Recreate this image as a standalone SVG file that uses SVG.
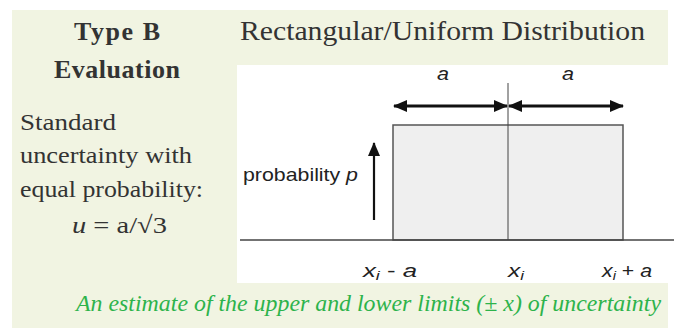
<svg xmlns="http://www.w3.org/2000/svg" width="674" height="330" viewBox="0 0 674 330">
<defs>
<style>
.serif{font-family:"Liberation Serif","DejaVu Serif",serif;fill:#333;}
.sans{font-family:"Liberation Sans",Arial,sans-serif;fill:#222;}
.it{font-style:italic;}
.axis{stroke:#444;fill:none;}
</style>
<marker id="ah" viewBox="0 0 14 12" refX="13" refY="6" markerWidth="14" markerHeight="12" markerUnits="userSpaceOnUse" orient="auto-start-reverse">
<path d="M0,0 L14,6 L0,12 Z" fill="#111"/>
</marker>
</defs>
<rect x="12" y="10" width="656" height="318" fill="#F1F4E2"/>
<rect x="237" y="65" width="437" height="218" fill="#FFFFFF"/>
<g id="title-left">
<text class="serif" x="117" y="40" font-size="26" font-weight="bold" text-anchor="middle" textLength="86">Type B</text>
<text class="serif" x="117" y="78" font-size="26" font-weight="bold" text-anchor="middle" textLength="126">Evaluation</text>
</g>
<g id="title-right">
<text class="serif" x="240" y="40" font-size="27" textLength="405" lengthAdjust="spacingAndGlyphs">Rectangular/Uniform Distribution</text>
</g>
<g id="desc">
<text class="serif" x="20" y="130" font-size="24" textLength="96" lengthAdjust="spacingAndGlyphs">Standard</text>
<text class="serif" x="20" y="163" font-size="24" textLength="172" lengthAdjust="spacingAndGlyphs">uncertainty with</text>
<text class="serif" x="20" y="197" font-size="24" textLength="183" lengthAdjust="spacingAndGlyphs">equal probability:</text>
<text class="serif" x="72" y="233" font-size="24" textLength="95" lengthAdjust="spacingAndGlyphs"><tspan class="it">u</tspan> = a/√3</text>
</g>
<g id="chart">
<rect x="393" y="125" width="230" height="115" fill="#EFEFEF" stroke="#555" stroke-width="1.5"/>
<line class="axis" x1="240" y1="240" x2="674" y2="240" stroke-width="1.5"/>
<line class="axis" x1="508" y1="83" x2="508" y2="240" stroke-width="1"/>
</g>
<g id="connectors">
<line x1="394" y1="106" x2="507" y2="106" stroke="#111" stroke-width="2.8" marker-start="url(#ah)" marker-end="url(#ah)"/>
<line x1="509" y1="106" x2="623" y2="106" stroke="#111" stroke-width="2.8" marker-start="url(#ah)" marker-end="url(#ah)"/>
<line x1="374" y1="220" x2="374" y2="143" stroke="#111" stroke-width="2.2" marker-end="url(#ah)"/>
</g>
<g id="labels">
<text class="sans it" x="443" y="80" font-size="19" text-anchor="middle" textLength="12" lengthAdjust="spacingAndGlyphs">a</text>
<text class="sans it" x="568" y="80" font-size="19" text-anchor="middle" textLength="12" lengthAdjust="spacingAndGlyphs">a</text>
<text class="sans" x="243" y="181" font-size="19" textLength="115" lengthAdjust="spacingAndGlyphs">probability <tspan class="it">p</tspan></text>
<text class="sans" x="363" y="277" font-size="19" textLength="54" lengthAdjust="spacingAndGlyphs"><tspan class="it">x</tspan><tspan class="it" font-size="13" dy="3">i</tspan><tspan dy="-3">  - </tspan><tspan class="it">a</tspan></text>
<text class="sans" x="508" y="277" font-size="19" textLength="16" lengthAdjust="spacingAndGlyphs"><tspan class="it">x</tspan><tspan class="it" font-size="13" dy="3">i</tspan></text>
<text class="sans" x="602" y="277" font-size="19" textLength="50" lengthAdjust="spacingAndGlyphs"><tspan class="it">x</tspan><tspan class="it" font-size="13" dy="3">i</tspan><tspan dy="-3"> + </tspan><tspan class="it">a</tspan></text>
</g>
<g id="footer">
<text class="serif it" x="76" y="311" font-size="23" style="fill:#2DB34B" textLength="585" lengthAdjust="spacingAndGlyphs">An estimate of the upper and lower limits (± x) of uncertainty</text>
</g>
</svg>
